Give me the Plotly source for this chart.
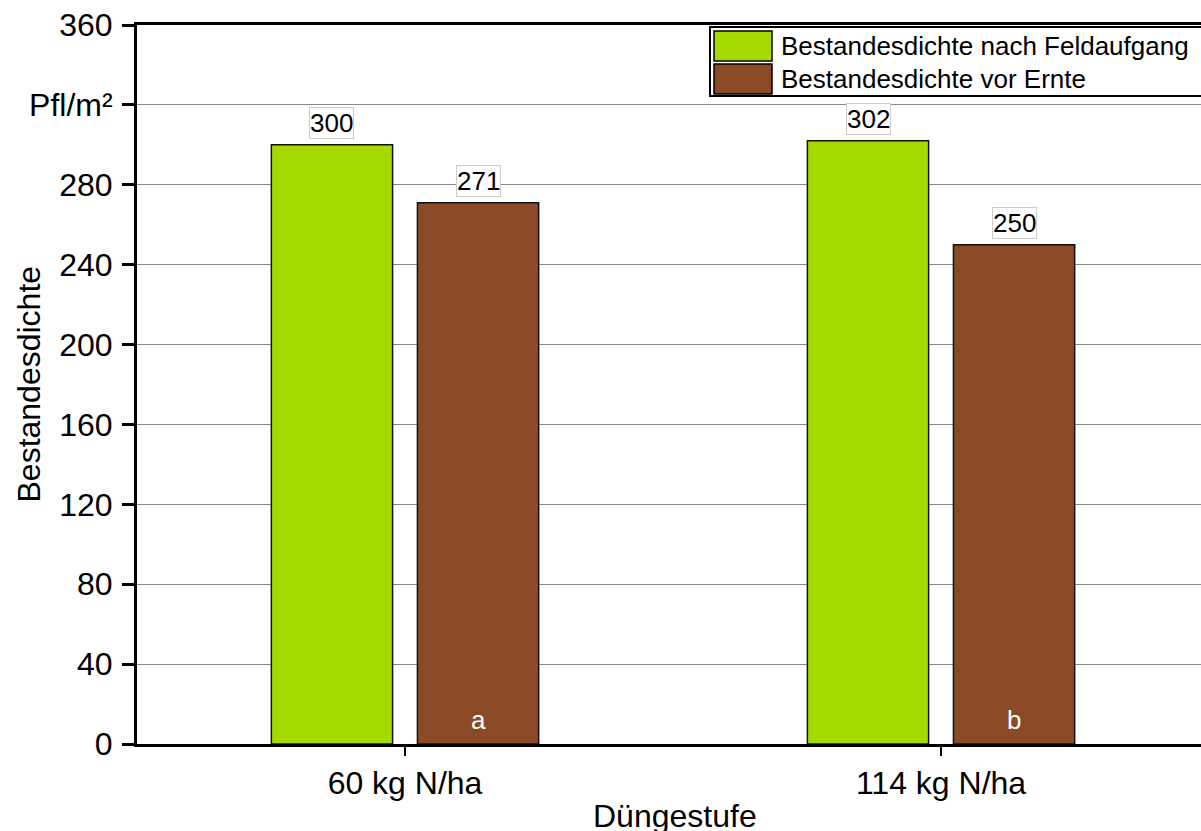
import plotly.graph_objects as go

categories = ["60 kg N/ha", "114 kg N/ha"]
series_names = ["Bestandesdichte nach Feldaufgang", "Bestandesdichte vor Ernte"]
feldaufgang = [300, 302]
vor_ernte = [271, 250]
letters = ["a", "b"]
y_tickvals = [0, 40, 80, 120, 160, 200, 240, 280, 320, 360]
y_ticktext = ["0", "40", "80", "120", "160", "200", "240", "280", "Pfl/m²", "360"]

colors = ["#A5D900", "#8B4A26"]
FONT = "Liberation Sans, Arial, sans-serif"

fig = go.Figure()
for name, vals, col in zip(series_names, [feldaufgang, vor_ernte], colors):
    fig.add_trace(go.Bar(x=categories, y=vals, name=name, marker=dict(color=col, line=dict(color="#111", width=1.5)),
                         showlegend=False, hoverinfo="skip"))

bargap = 0.455
bargroupgap = 0.17
slot = (1 - bargap) / 2
offsets = [-slot / 2, slot / 2]

anns = []
for s, vals in enumerate([feldaufgang, vor_ernte]):
    for i, v in enumerate(vals):
        anns.append(dict(x=i + offsets[s], y=v, xref="x", yref="y", text=str(v), showarrow=False,
                         yanchor="bottom", yshift=6, font=dict(size=26, color="black", family=FONT),
                         bordercolor="#cccccc", borderwidth=1, borderpad=0, bgcolor="white"))
for i, l in enumerate(letters):
    anns.append(dict(x=i + offsets[1], y=0, xref="x", yref="y", text=l, showarrow=False,
                     yanchor="bottom", yshift=7, font=dict(size=26, color="white", family=FONT)))

# axis titles
anns.append(dict(x=0, y=0.5, xref="paper", yref="paper", xshift=-109, text="Bestandesdichte", textangle=-90,
                 xanchor="center", yanchor="middle",
                 showarrow=False, font=dict(size=32, color="black", family=FONT)))
anns.append(dict(x=0.5056, y=0, xref="paper", yref="paper", yshift=-72, text="Düngestufe", yanchor="middle",
                 showarrow=False, font=dict(size=32, color="black", family=FONT)))

# custom legend
shapes = []
W, H = 1064, 719
def px(xp): return (xp - 137) / W
def py(yp): return (744 - yp) / H
shapes.append(dict(type="rect", xref="paper", yref="paper", x0=px(710), x1=px(1204), y0=py(96), y1=py(27),
                   line=dict(color="black", width=2), fillcolor="white", layer="above"))
for k, (name, col) in enumerate(zip(series_names, colors)):
    y0 = 31 + k * 33
    shapes.append(dict(type="rect", xref="paper", yref="paper", x0=px(714), x1=px(772), y0=py(y0 + 30), y1=py(y0),
                       line=dict(color="black", width=1.5), fillcolor=col, layer="above"))
    anns.append(dict(x=px(779), y=py(y0 + 15), xref="paper", yref="paper", text=name, showarrow=False,
                     xanchor="left", yanchor="middle", font=dict(size=26, color="black", family=FONT)))

fig.update_layout(
    width=1201, height=831,
    margin=dict(l=137, r=0, t=25, b=87),
    plot_bgcolor="white", paper_bgcolor="white",
    barmode="group", bargap=bargap, bargroupgap=bargroupgap,
    font=dict(family=FONT, color="black", size=32),
    annotations=anns, shapes=shapes,
    hovermode=False,
    xaxis=dict(range=[-0.5, 1.485], showline=True, linecolor="black", linewidth=3, mirror=True,
               ticks="outside", ticklen=9, tickwidth=2, tickcolor="black", showgrid=False,
               tickfont=dict(size=32, family=FONT), fixedrange=True),
    yaxis=dict(range=[0, 360], tickvals=y_tickvals, ticktext=y_ticktext, showline=True, linecolor="black",
               linewidth=3, mirror=False, ticks="outside", ticklen=12, tickwidth=3, tickcolor="black",
               showgrid=True, gridcolor="#888888", gridwidth=1, zeroline=False, ticklabelstandoff=3,
               tickfont=dict(size=32, family=FONT), fixedrange=True),
)
fig.write_html("out.html", config={"displayModeBar": False, "staticPlot": True},
               post_script="document.body.style.margin='0px';document.body.style.overflow='hidden';")
